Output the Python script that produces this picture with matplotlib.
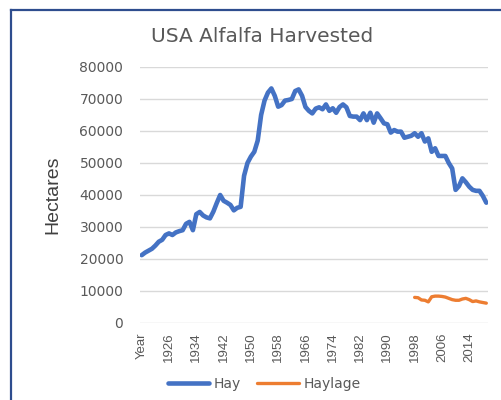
import numpy as np
import matplotlib.pyplot as plt
from matplotlib.lines import Line2D

# category axis: header cell "Year" followed by the years
categories = ["Year"] + [str(y) for y in range(1919, 2020)]

hay = [
    21200, 22000, 22600, 23200, 24200, 25400, 26000, 27500, 28000, 27500,
    28300, 28700, 29000, 31000, 31600, 29000, 34000, 34700, 33600, 33000,
    32700, 34800, 37500, 40000, 38200, 37600, 36900, 35200, 36000, 36300,
    46000, 50000, 52000, 53500, 57000, 65000, 69500, 72000, 73300, 71000,
    67600, 68100, 69500, 69700, 70000, 72500, 73000, 71000, 67500, 66300,
    65500, 67000, 67400, 66800, 68300, 66300, 67100, 65700, 67500, 68300,
    67400, 64700, 64500, 64500, 63400, 65500, 63400, 65700, 62600, 65500,
    64000, 62400, 62100, 59500, 60300, 59800, 59800, 57900, 58200, 58500,
    59300, 58200, 59300, 56700, 57700, 53500, 54600, 52200, 52200, 52200,
    50000, 48300, 41600, 42800, 45200, 44000, 42600, 41600, 41300, 41300,
    39700, 37600,
]

# haylage only reported from 1998 on
haylage_start = "1998"
haylage = [
    8000, 7900, 7200, 7100, 6600, 8200, 8400, 8400, 8300, 8100,
    7700, 7300, 7100, 7100, 7500, 7700, 7300, 6700, 6900, 6600,
    6400, 6200,
]

yticks = [0, 10000, 20000, 30000, 40000, 50000, 60000, 70000, 80000]

W, H = 501, 400
fig = plt.figure(figsize=(W / 100, H / 100), dpi=100)

# chart frame: only the left and top edges fall inside the picture
frame = "#2E4D8E"
fig.lines.append(Line2D([11 / W, 11 / W], [0, 1 - 10 / H], transform=fig.transFigure,
                        color=frame, linewidth=1.6))
fig.lines.append(Line2D([11 / W, 1], [1 - 10 / H, 1 - 10 / H], transform=fig.transFigure,
                        color=frame, linewidth=1.6))

ax = fig.add_axes([140 / W, 1 - 323 / H, (488 - 140) / W, (323 - 67) / H])

x = np.arange(len(categories))
x_hl = np.arange(categories.index(haylage_start), categories.index(haylage_start) + len(haylage))

ax.plot(x[:len(hay)], hay, color="#4472C4", linewidth=3.3, solid_capstyle="round",
        solid_joinstyle="round", label="Hay", zorder=3)
ax.plot(x_hl, haylage, color="#ED7D31", linewidth=2.4, solid_capstyle="round",
        solid_joinstyle="round", label="Haylage", zorder=3)

ax.set_xlim(-0.5, len(categories) - 0.5)
ax.set_ylim(0, 80000)
ax.set_yticks(yticks)
ax.set_yticklabels([str(v) for v in yticks], fontsize=10, color="#595959",
                   family="DejaVu Sans")
ax.set_xticks(x[::8])
ax.set_xticklabels(categories[::8], rotation=90, fontsize=9.5, color="#595959",
                   family="Liberation Sans")
ax.tick_params(axis="y", length=0, pad=12)
ax.tick_params(axis="x", length=0, pad=7)
ax.grid(axis="y", color="#D9D9D9", linewidth=1.0)
ax.set_axisbelow(True)
for s in ax.spines.values():
    s.set_visible(False)

fig.text(262 / W, 1 - 36 / H, "USA Alfalfa Harvested", ha="center", va="center",
         fontsize=14.5, color="#595959", family="DejaVu Sans")
fig.text(53 / W, 1 - 195 / H, "Hectares", ha="center", va="center", rotation=90,
         fontsize=14, color="#404040", family="Liberation Sans")

fig.legend(loc="center", bbox_to_anchor=(264 / W, 1 - 384 / H), ncol=2,
           frameon=False, handlelength=3.0, handletextpad=0.3, columnspacing=1.2,
           prop={"family": "DejaVu Sans", "size": 10}, labelcolor="#595959")

fig.savefig("out.png", dpi=100)
